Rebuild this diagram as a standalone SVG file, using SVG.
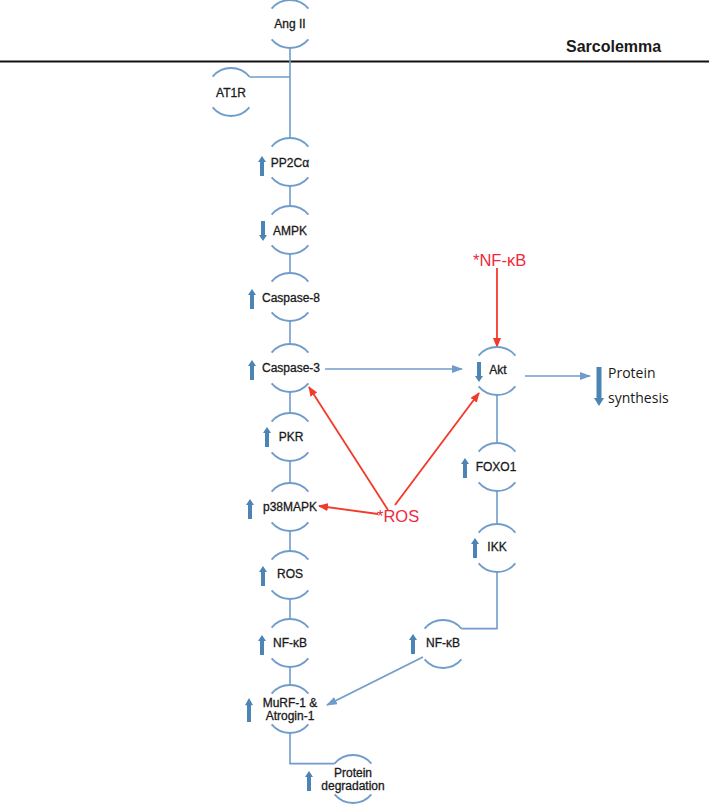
<svg xmlns="http://www.w3.org/2000/svg" xmlns:xlink="http://www.w3.org/1999/xlink" width="709" height="805" viewBox="0 0 709 805">
<style>
.arc{fill:none;stroke:#6f9ccb;stroke-width:1.8}
.con{fill:none;stroke:#6f9ccb;stroke-width:1.6}
.bar{fill:#4d84b6}
.lbl{font-family:"Liberation Sans",Arial,sans-serif;font-size:12px;fill:#1a1a1a;stroke:#1a1a1a;stroke-width:0.3;text-anchor:middle}
.red{fill:none;stroke:#f23a2a;stroke-width:1.8}
.redt{font-family:"Liberation Sans",Arial,sans-serif;font-size:16.5px;fill:#f0283c}
.ps{font-family:"Open Sans","Noto Sans",sans-serif;font-size:14px;fill:#1a1a1a}
</style>
<defs>
<path id="up" d="M0,-10 L4,-4 L2,-4 L2,10 L-2,10 L-2,-4 L-4,-4 Z"/>
<marker id="ar" markerWidth="10" markerHeight="8" refX="9" refY="4" orient="auto" markerUnits="userSpaceOnUse">
<path d="M0,0 L10,4 L0,8 Z" fill="#f23a2a"/>
</marker>
<marker id="ab" markerWidth="11" markerHeight="8" refX="10" refY="4" orient="auto" markerUnits="userSpaceOnUse">
<path d="M0,0 L11,4 L0,8 Z" fill="#6f9ccb"/>
</marker>
</defs>
<rect width="709" height="805" fill="#ffffff"/>

<g id="sarcolemma">
<line x1="0" y1="61.5" x2="709" y2="61.5" stroke="#111" stroke-width="2"/>
<text x="566" y="52" font-family="'Liberation Sans',Arial,sans-serif" font-size="16" font-weight="bold" fill="#1a1a1a">Sarcolemma</text>
</g>

<g id="connectors">
<path class="con" d="M290,48 V138"/>
<path class="con" d="M249.4,77 H290"/>
<path class="con" d="M290,186 V206"/>
<path class="con" d="M290,254 V273"/>
<path class="con" d="M290,321 V344"/>
<path class="con" d="M290,392 V413"/>
<path class="con" d="M290,461 V483"/>
<path class="con" d="M290,531 V551"/>
<path class="con" d="M290,599 V619"/>
<path class="con" d="M290,667 V685"/>
<path class="con" d="M290,733 V763.6 H334.6"/>
<path class="con" d="M497,395 V443"/>
<path class="con" d="M497,491 V524"/>
<path class="con" d="M497,572 V628.6 H461.4"/>
<path class="con" d="M325,369 H462" marker-end="url(#ab)"/>
<path class="con" d="M525,376 H590" marker-end="url(#ab)"/>
<path class="con" d="M423,657 L327,705" marker-end="url(#ab)"/>
<path class="red" d="M497,268 V347" marker-end="url(#ar)"/>
<path class="red" d="M388,510 L309,387" marker-end="url(#ar)"/>
<path class="red" d="M395,505 L479,393" marker-end="url(#ar)"/>
<path class="red" d="M378,514 L319,506" marker-end="url(#ar)"/>
</g>

<g id="angII">
<path class="arc" d="M271.6,8.6 A24,24 0 0 1 308.4,8.6 M271.6,39.4 A24,24 0 0 0 308.4,39.4"/>
<text class="lbl" x="290" y="28">Ang II</text>
</g>
<g id="at1r">
<path class="arc" d="M212.6,76.6 A24,24 0 0 1 249.4,76.6 M212.6,107.4 A24,24 0 0 0 249.4,107.4"/>
<text class="lbl" x="231" y="97">AT1R</text>
</g>
<g id="pp2ca">
<path class="arc" d="M271.6,146.6 A24,24 0 0 1 308.4,146.6 M271.6,177.4 A24,24 0 0 0 308.4,177.4"/>
<text class="lbl" x="290" y="167">PP2Cα</text>
<use href="#up" class="bar" x="262" y="166"/>
</g>
<g id="ampk">
<path class="arc" d="M271.6,214.6 A24,24 0 0 1 308.4,214.6 M271.6,245.4 A24,24 0 0 0 308.4,245.4"/>
<text class="lbl" x="290" y="235">AMPK</text>
<use href="#up" class="bar" transform="translate(263,231) rotate(180)"/>
</g>
<g id="caspase8">
<path class="arc" d="M271.6,281.6 A24,24 0 0 1 308.4,281.6 M271.6,312.4 A24,24 0 0 0 308.4,312.4"/>
<text class="lbl" x="291" y="302">Caspase-8</text>
<use href="#up" class="bar" x="252" y="299"/>
</g>
<g id="caspase3">
<path class="arc" d="M271.6,352.6 A24,24 0 0 1 308.4,352.6 M271.6,383.4 A24,24 0 0 0 308.4,383.4"/>
<text class="lbl" x="291" y="372">Caspase-3</text>
<use href="#up" class="bar" x="252" y="370"/>
</g>
<g id="pkr">
<path class="arc" d="M271.6,421.6 A24,24 0 0 1 308.4,421.6 M271.6,452.4 A24,24 0 0 0 308.4,452.4"/>
<text class="lbl" x="291" y="441">PKR</text>
<use href="#up" class="bar" x="267" y="437"/>
</g>
<g id="p38mapk">
<path class="arc" d="M271.6,491.6 A24,24 0 0 1 308.4,491.6 M271.6,522.4 A24,24 0 0 0 308.4,522.4"/>
<text class="lbl" x="290" y="511">p38MAPK</text>
<use href="#up" class="bar" x="250" y="509"/>
</g>
<g id="ros">
<path class="arc" d="M271.6,559.6 A24,24 0 0 1 308.4,559.6 M271.6,590.4 A24,24 0 0 0 308.4,590.4"/>
<text class="lbl" x="290" y="578">ROS</text>
<use href="#up" class="bar" x="263" y="576"/>
</g>
<g id="nfkb-left">
<path class="arc" d="M271.6,627.6 A24,24 0 0 1 308.4,627.6 M271.6,658.4 A24,24 0 0 0 308.4,658.4"/>
<text class="lbl" x="290" y="647">NF-κB</text>
<use href="#up" class="bar" x="262" y="645"/>
</g>
<g id="murf">
<path class="arc" d="M271.6,693.6 A24,24 0 0 1 308.4,693.6 M271.6,724.4 A24,24 0 0 0 308.4,724.4"/>
<text class="lbl" x="290" y="707">MuRF-1 &amp;</text>
<text class="lbl" x="290" y="720">Atrogin-1</text>
<use href="#up" class="bar" transform="translate(249,710) scale(1,1.2)"/>
</g>
<g id="protein-degradation">
<path class="arc" d="M334.6,763.6 A24,24 0 0 1 371.4,763.6 M334.6,794.4 A24,24 0 0 0 371.4,794.4"/>
<text class="lbl" x="353" y="777">Protein</text>
<text class="lbl" x="353" y="790">degradation</text>
<use href="#up" class="bar" x="309" y="781"/>
</g>
<g id="nfkb-top">
<text class="redt" x="473" y="266">*NF-κB</text>
</g>
<g id="ros-star">
<text class="redt" x="377" y="522">*ROS</text>
</g>
<g id="akt">
<path class="arc" d="M478.6,355.6 A24,24 0 0 1 515.4,355.6 M478.6,386.4 A24,24 0 0 0 515.4,386.4"/>
<text class="lbl" x="498" y="374">Akt</text>
<use href="#up" class="bar" transform="translate(479,372) rotate(180)"/>
</g>
<g id="foxo1">
<path class="arc" d="M478.6,451.6 A24,24 0 0 1 515.4,451.6 M478.6,482.4 A24,24 0 0 0 515.4,482.4"/>
<text class="lbl" x="496" y="471">FOXO1</text>
<use href="#up" class="bar" x="465" y="468"/>
</g>
<g id="ikk">
<path class="arc" d="M478.6,532.6 A24,24 0 0 1 515.4,532.6 M478.6,563.4 A24,24 0 0 0 515.4,563.4"/>
<text class="lbl" x="497" y="551">IKK</text>
<use href="#up" class="bar" x="475" y="548"/>
</g>
<g id="nfkb-right">
<path class="arc" d="M424.6,628.6 A24,24 0 0 1 461.4,628.6 M424.6,659.4 A24,24 0 0 0 461.4,659.4"/>
<text class="lbl" x="443" y="647">NF-κB</text>
<use href="#up" class="bar" x="413" y="644"/>
</g>
<g id="protein-synthesis">
<path class="bar" d="M599,406 L604,398 L601.5,398 L601.5,367 L596.5,367 L596.5,398 L594,398 Z"/>
<text class="ps" x="608" y="378">Protein</text>
<text class="ps" x="608" y="403">synthesis</text>
</g>
</svg>
